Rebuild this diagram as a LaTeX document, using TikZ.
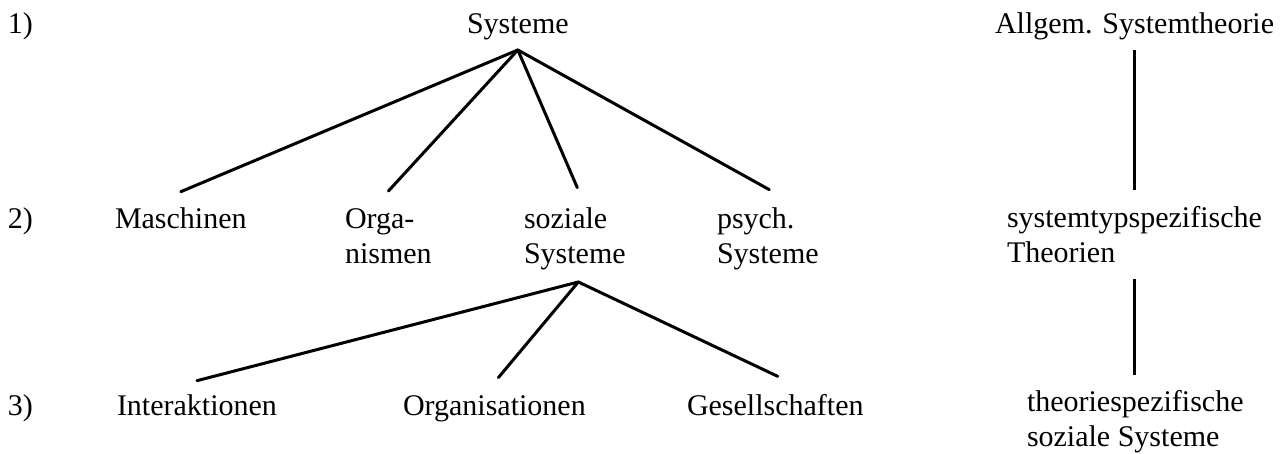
\documentclass[tikz,border=0pt]{standalone}
\usepackage{fontspec}
\setmainfont{Liberation Serif}
\usetikzlibrary{calc}
\begin{document}
\begin{tikzpicture}[x=1pt,y=-1pt,
  lbl/.style={anchor=base west,inner sep=0pt,outer sep=0pt,align=left,
    font=\fontsize{30}{35}\selectfont},
  conn/.style={line width=3pt,line cap=round},
  vconn/.style={line width=2.6pt}]
\useasboundingbox (0,0) rectangle (1286,453);
% labels (multi-line nodes: base = last line's baseline)
\node[lbl] (n1) at (8,33) {1)};
\node[lbl] (sys) at (467,33) {Systeme};
\node[lbl] (allg) at (995,33) {Allgem. Systemtheorie};
\node[lbl] (n2) at (8,228) {2)};
\node[lbl] (masch) at (115,228) {Maschinen};
\node[lbl] (orga) at (345,263) {Orga-\\nismen};
\node[lbl] (soz) at (524,263) {soziale\\Systeme};
\node[lbl] (psy) at (717,263) {psych.\\Systeme};
\node[lbl] (typ) at (1007,262) {systemtypspezifische\\Theorien};
\node[lbl] (n3) at (8,415) {3)};
\node[lbl] (inter) at (117,415) {Interaktionen};
\node[lbl] (orgs) at (403,415) {Organisationen};
\node[lbl] (ges) at (687,415) {Gesellschaften};
\node[lbl] (theo) at (1027,446) {theoriespezifische\\soziale Systeme};
% apexes
\coordinate (ap1) at ([yshift=-10.5pt]sys.south);
\coordinate (ap2) at ([xshift=3.5pt,yshift=-12.5pt]soz.south);
% tree connectors
\draw[conn] ([yshift=15.5pt]masch.north) -- (ap1);
\draw[conn] ([yshift=17pt]orga.north) -- (ap1);
\draw[conn] ([xshift=2.5pt,yshift=19.5pt]soz.north) -- (ap1);
\draw[conn] ([xshift=1.5pt,yshift=17.5pt]psy.north) -- (ap1);
\draw[conn] ([yshift=13.5pt]inter.north) -- (ap2);
\draw[conn] ([xshift=4pt,yshift=17.5pt]orgs.north) -- (ap2);
\draw[conn] ([xshift=2.5pt,yshift=17.5pt]ges.north) -- (ap2);
% right column
\draw[vconn,shorten <=10.5pt,shorten >=15.5pt] (allg.south -| typ.north) -- (typ.north);
\draw[vconn,shorten <=17pt,shorten >=14.5pt] (typ.south) -- (typ.south |- theo.north);
\end{tikzpicture}
\end{document}
